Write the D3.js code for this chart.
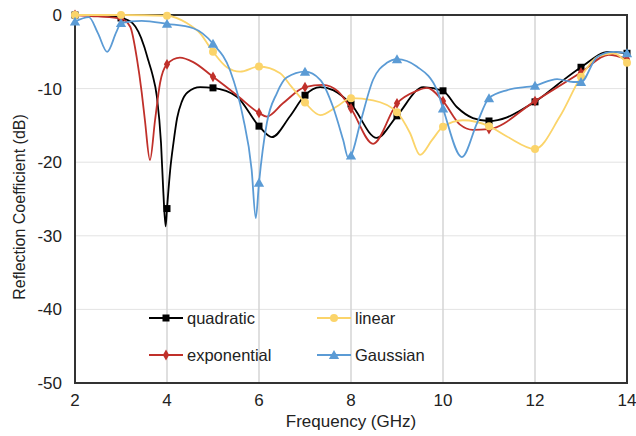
<!DOCTYPE html>
<html>
<head>
<meta charset="utf-8">
<script src="https://cdn.jsdelivr.net/npm/d3@7"></script>
<style>
  body { margin: 0; background: #fff; }
  text { font-family: "Liberation Sans", Arial, sans-serif; fill: #222; }
</style>
</head>
<body>
<div id="chart"></div>
<script>
// marker frequencies (GHz)
const freqs = [2, 3, 4, 5, 6, 7, 8, 9, 10, 11, 12, 13, 14];

// marker values (dB) at each frequency
const quadraticMarks   = [0, -0.4, -26.3, -9.9, -15.1, -10.9, -12.1, -13.7, -10.3, -14.4, -11.8, -7.1, -5.2];
const exponentialMarks = [0, -0.5, -6.7, -8.4, -13.3, -9.8, -12.7, -12.0, -11.7, -15.5, -11.7, -7.8, -6.0];
const linearMarks      = [0, 0, -0.1, -5.0, -7.0, -11.9, -11.3, -13.2, -15.2, -15.1, -18.2, -8.4, -6.5];
const gaussianMarks    = [-0.9, -1.1, -1.2, -3.9, -22.8, -7.7, -19.1, -6.0, -12.7, -11.3, -9.6, -9.1, -5.2];

const quadraticCurve = [[2,0],[2.5,0],[3,-0.4],[3.25,-1.1],[3.38,-2.3],[3.5,-4.2],[3.6,-6.3],[3.68,-8],[3.78,-11.1],[3.87,-17.4],[3.92,-24],[3.97,-28.7],[4,-26.3],[4.07,-21],[4.14,-17.4],[4.22,-14],[4.32,-11.8],[4.45,-10.5],[4.72,-9.8],[5,-9.9],[5.52,-11.1],[6,-15.1],[6.28,-16.6],[6.67,-13.8],[7,-10.9],[7.33,-9.8],[7.61,-10.2],[8,-12.1],[8.56,-16.7],[9,-13.7],[9.57,-9.8],[10,-10.3],[10.3,-12.5],[10.65,-14],[11,-14.4],[11.39,-13.9],[11.7,-12.9],[12,-11.8],[12.48,-9.5],[13,-7.1],[13.6,-5.0],[14,-5.2]];
const exponentialCurve = [[2,0],[2.5,-0.2],[3,-0.5],[3.2,-1.6],[3.35,-6.1],[3.45,-10.5],[3.52,-14.3],[3.63,-19.7],[3.74,-14.3],[3.85,-9.2],[4,-6.7],[4.28,-5.8],[4.57,-6.4],[5,-8.4],[5.52,-10.9],[6,-13.3],[6.17,-13.8],[6.52,-12],[7,-9.8],[7.39,-9.5],[7.72,-10.4],[8,-12.7],[8.48,-17.5],[9,-12],[9.43,-10.3],[9.65,-9.9],[10,-11.7],[10.37,-14.9],[10.65,-15.6],[11,-15.5],[12,-11.7],[13,-7.8],[13.6,-5.4],[14,-6]];
const linearCurve = [[2,0],[3,0],[4,-0.1],[4.43,-1.1],[4.72,-2.5],[5,-5.0],[5.3,-7.1],[5.59,-7.7],[6,-7.0],[6.46,-7.9],[6.7,-9.7],[7,-11.9],[7.33,-13.6],[7.7,-12.4],[8,-11.3],[8.48,-11.6],[9,-13.2],[9.28,-16],[9.5,-19],[9.76,-17],[10,-15.2],[10.43,-14.3],[11,-15.1],[11.39,-16.5],[12,-18.2],[12.54,-13.8],[13,-8.4],[13.35,-5.7],[13.7,-5.2],[14,-6.5]];
const gaussianCurve = [[2,-0.9],[2.3,-0.3],[2.5,-2.5],[2.7,-5.0],[2.9,-2.3],[3,-1.1],[3.45,-0.8],[4,-1.2],[4.57,-1.8],[5,-3.9],[5.37,-7.5],[5.65,-13.8],[5.84,-21],[5.93,-27.6],[6,-22.8],[6.17,-14.7],[6.39,-10.6],[6.6,-8.5],[7,-7.7],[7.33,-8.8],[7.61,-12.5],[7.83,-17],[7.94,-19.4],[8,-19.1],[8.2,-14.7],[8.48,-8.8],[8.78,-6.5],[9,-6.0],[9.43,-7.0],[9.87,-10.2],[10,-12.7],[10.41,-19.3],[10.74,-14.7],[11,-11.3],[11.4,-10.2],[12,-9.6],[12.48,-8.7],[12.83,-9.1],[13,-9.1],[13.35,-5.7],[13.7,-5.0],[14,-5.2]];

const xTicks = [2, 4, 6, 8, 10, 12, 14];
const yTicks = [0, -10, -20, -30, -40, -50];

const series = [
  { name: "quadratic",   curve: quadraticCurve,   marks: quadraticMarks,   color: "#000000", shape: "square" },
  { name: "exponential", curve: exponentialCurve, marks: exponentialMarks, color: "#c0302a", shape: "dot" },
  { name: "linear",      curve: linearCurve,      marks: linearMarks,      color: "#fbd46a", shape: "circle" },
  { name: "Gaussian",    curve: gaussianCurve,    marks: gaussianMarks,    color: "#5b9bd5", shape: "triangle" }
];

const width = 636, height = 436;
const margin = { left: 75, right: 9, top: 15, bottom: 53 };

const svg = d3.select("#chart").append("svg")
    .attr("width", width)
    .attr("height", height);

const x = d3.scaleLinear().domain([2, 14]).range([margin.left, width - margin.right]);
const y = d3.scaleLinear().domain([-50, 0]).range([height - margin.bottom, margin.top]);

// gridlines
svg.append("g")
    .selectAll("line")
    .data(yTicks.filter(d => d !== 0 && d !== -50))
    .join("line")
    .attr("x1", x(2)).attr("x2", x(14))
    .attr("y1", d => y(d)).attr("y2", d => y(d))
    .attr("stroke", "#e3e3e3").attr("stroke-width", 1);

svg.append("g")
    .selectAll("line")
    .data(xTicks.filter(d => d !== 2 && d !== 14))
    .join("line")
    .attr("x1", d => x(d)).attr("x2", d => x(d))
    .attr("y1", y(0)).attr("y2", y(-50))
    .attr("stroke", "#d4d4d4").attr("stroke-width", 1.5);

// frame
svg.append("rect")
    .attr("x", x(2)).attr("y", y(0))
    .attr("width", x(14) - x(2)).attr("height", y(-50) - y(0))
    .attr("fill", "none").attr("stroke", "#333").attr("stroke-width", 2);

// tick labels
svg.append("g")
    .selectAll("text")
    .data(xTicks)
    .join("text")
    .attr("x", d => x(d)).attr("y", y(-50) + 23)
    .attr("text-anchor", "middle")
    .style("font-size", "17px")
    .text(d => d);

svg.append("g")
    .selectAll("text")
    .data(yTicks)
    .join("text")
    .attr("x", x(2) - 13).attr("y", d => y(d) + 6)
    .attr("text-anchor", "end")
    .style("font-size", "17px")
    .text(d => d);

// axis titles
svg.append("text")
    .attr("x", (x(2) + x(14)) / 2).attr("y", 427)
    .attr("text-anchor", "middle")
    .style("font-size", "17px")
    .text("Frequency (GHz)");

svg.append("text")
    .attr("transform", `translate(25, ${(y(0) + y(-50)) / 2 + 8}) rotate(-90)`)
    .attr("text-anchor", "middle")
    .style("font-size", "16px")
    .text("Reflection Coefficient (dB)");

const line = d3.line()
    .x(d => x(d[0]))
    .y(d => y(d[1]))
    .curve(d3.curveMonotoneX);

function drawMarker(g, shape, color, cx, cy) {
    if (shape === "square") {
        g.append("rect").attr("x", cx - 3.5).attr("y", cy - 3.5)
            .attr("width", 7).attr("height", 7).attr("fill", color);
    } else if (shape === "circle") {
        g.append("circle").attr("cx", cx).attr("cy", cy).attr("r", 4).attr("fill", color);
    } else if (shape === "dot") {
        g.append("path").attr("transform", `translate(${cx},${cy})`)
            .attr("d", d3.symbol(d3.symbolDiamond, 34)()).attr("fill", color);
    } else {
        g.append("path").attr("transform", `translate(${cx},${cy + 1})`)
            .attr("d", d3.symbol(d3.symbolTriangle, 46)()).attr("fill", color);
    }
}

series.forEach(s => {
    const g = svg.append("g");
    g.append("path")
        .datum(s.curve)
        .attr("fill", "none")
        .attr("stroke", s.color)
        .attr("stroke-width", 1.8)
        .attr("d", line);
    freqs.forEach((f, i) => drawMarker(g, s.shape, s.color, x(f), y(s.marks[i])));
});

// legend (two columns, Excel-style)
const legendPos = [
    { lx: 149, ly: 318 },  // quadratic
    { lx: 149, ly: 355 },  // exponential
    { lx: 317, ly: 318 },  // linear
    { lx: 317, ly: 355 }   // Gaussian
];

series.forEach((s, i) => {
    const p = legendPos[i];
    const g = svg.append("g");
    g.append("line")
        .attr("x1", p.lx).attr("x2", p.lx + 34)
        .attr("y1", p.ly).attr("y2", p.ly)
        .attr("stroke", s.color).attr("stroke-width", 1.8);
    drawMarker(g, s.shape, s.color, p.lx + 17, p.ly);
    g.append("text")
        .attr("x", p.lx + 38).attr("y", p.ly + 6)
        .style("font-size", "16.5px")
        .text(s.name);
});
</script>
</body>
</html>
